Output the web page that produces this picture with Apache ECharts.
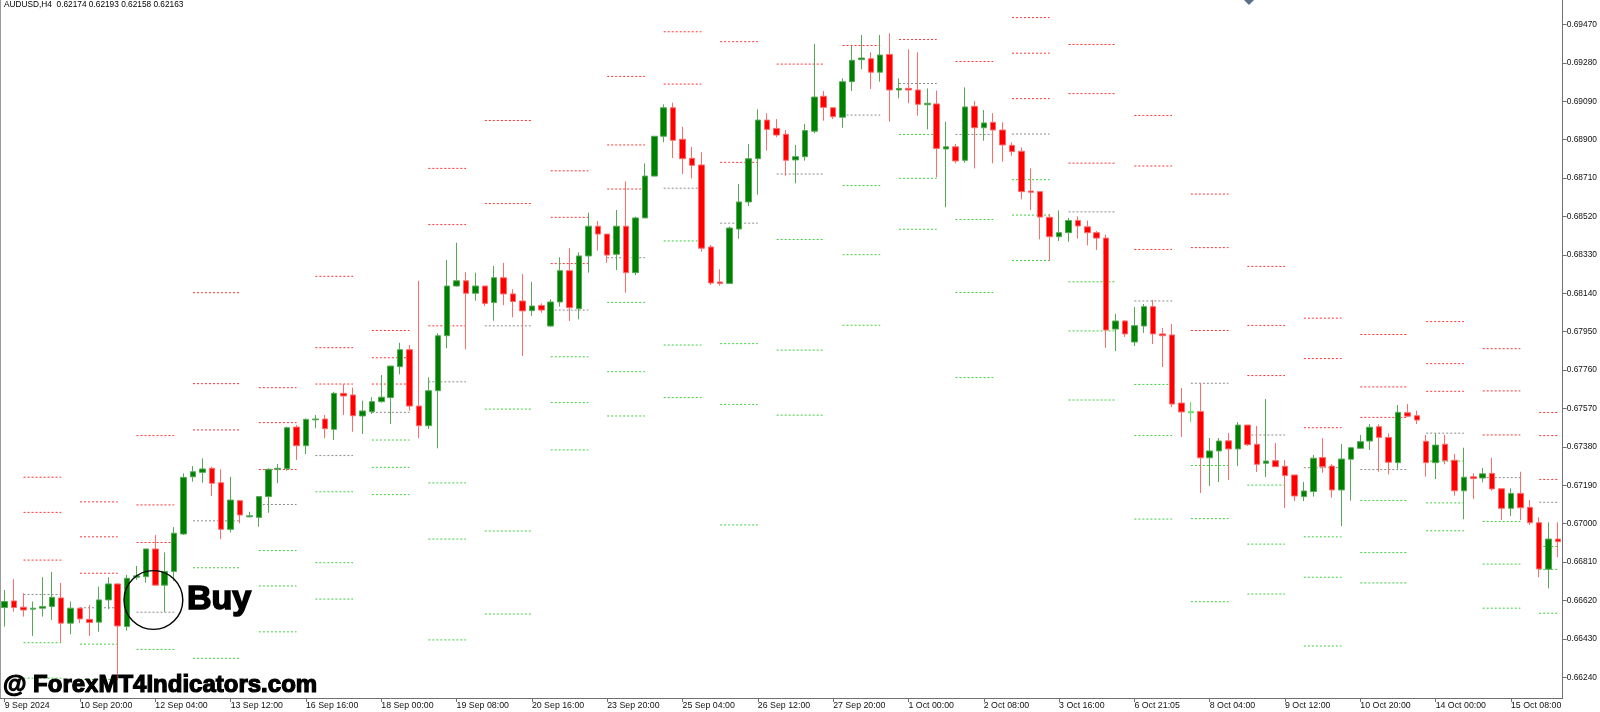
<!DOCTYPE html>
<html>
<head>
<meta charset="utf-8">
<script src="https://cdn.jsdelivr.net/npm/echarts@6/dist/echarts.min.js"></script>
<style>
html,body{margin:0;padding:0;background:#fff;}
#chart{width:1600px;height:712px;}
</style>
</head>
<body>
<div id="chart"></div>
<script>
// ---- candle data (AUDUSD H4) ----
const open = [0.66585,0.66618,0.66587,0.66577,0.66582,0.66590,0.66633,0.66508,0.66582,0.66527,
0.66513,0.66623,0.66702,0.66491,0.66735,0.66738,0.66875,0.66696,0.66764,0.66949,
0.67232,0.67254,0.67274,0.67203,0.66972,0.67114,0.67034,0.67031,0.67134,0.67269,
0.67272,0.67478,0.67386,0.67514,0.67518,0.67467,0.67645,0.67637,0.67533,0.67554,
0.67604,0.67624,0.67777,0.67861,0.67582,0.67485,0.67658,0.67930,0.68176,0.68202,
0.68140,0.68176,0.68094,0.68217,0.68137,0.68102,0.68054,0.68080,0.67978,0.68097,
0.68252,0.68064,0.68325,0.68472,0.68433,0.68333,0.68472,0.68242,0.68513,0.68720,
0.68917,0.69058,0.68902,0.68808,0.68775,0.68369,0.68196,0.68189,0.68458,0.68592,
0.68806,0.68997,0.68956,0.68927,0.68800,0.68816,0.68942,0.69115,0.69058,0.69011,
0.69187,0.69296,0.69301,0.69234,0.69322,0.69146,0.69154,0.69146,0.69073,0.69077,
0.68854,0.68865,0.68798,0.69065,0.68959,0.68986,0.68948,0.68872,0.68843,0.68646,
0.68643,0.68516,0.68420,0.68440,0.68500,0.68469,0.68440,0.68413,0.67963,0.68003,
0.67899,0.67978,0.68074,0.67939,0.67934,0.67597,0.67549,0.67555,0.67326,0.67360,
0.67410,0.67370,0.67488,0.67393,0.67299,0.67312,0.67284,0.67241,0.67134,0.67159,
0.67327,0.67285,0.67167,0.67319,0.67373,0.67409,0.67480,0.67427,0.67302,0.67549,
0.67534,0.67408,0.67302,0.67393,0.67314,0.67163,0.67232,0.67226,0.67249,0.67173,
0.67076,0.67150,0.67081,0.67005,0.66775,0.66924];
const close = [0.66615,0.66585,0.66573,0.66582,0.66590,0.66636,0.66508,0.66582,0.66529,0.66511,
0.66623,0.66702,0.66494,0.66730,0.66742,0.66875,0.66696,0.66764,0.66953,0.67229,
0.67257,0.67271,0.67200,0.66972,0.67117,0.67043,0.67039,0.67134,0.67269,0.67274,
0.67475,0.67386,0.67516,0.67518,0.67470,0.67645,0.67632,0.67534,0.67558,0.67604,
0.67626,0.67780,0.67861,0.67582,0.67485,0.67658,0.67930,0.68176,0.68202,0.68140,
0.68176,0.68090,0.68217,0.68137,0.68099,0.68053,0.68077,0.68057,0.68097,0.68252,
0.68069,0.68325,0.68472,0.68433,0.68329,0.68472,0.68242,0.68513,0.68720,0.68917,
0.69058,0.68897,0.68806,0.68773,0.68363,0.68191,0.68189,0.68463,0.68592,0.68806,
0.68997,0.68951,0.68923,0.68798,0.68816,0.68945,0.69111,0.69060,0.69014,0.69187,
0.69293,0.69304,0.69234,0.69319,0.69146,0.69154,0.69146,0.69075,0.69080,0.68857,
0.68865,0.68795,0.69062,0.68959,0.68983,0.68948,0.68874,0.68841,0.68643,0.68640,
0.68517,0.68420,0.68440,0.68500,0.68473,0.68440,0.68413,0.67958,0.68003,0.67939,
0.67980,0.68074,0.67939,0.67930,0.67592,0.67553,0.67554,0.67326,0.67360,0.67409,
0.67370,0.67488,0.67391,0.67294,0.67310,0.67282,0.67238,0.67137,0.67162,0.67324,
0.67282,0.67167,0.67320,0.67376,0.67406,0.67477,0.67427,0.67304,0.67551,0.67532,
0.67513,0.67302,0.67389,0.67312,0.67163,0.67230,0.67223,0.67247,0.67172,0.67076,
0.67150,0.67079,0.67005,0.66776,0.66924,0.66911];
const high = [0.66672,0.66725,0.66656,0.66615,0.66735,0.66761,0.66707,0.66615,0.66585,0.66598,
0.66689,0.66735,0.66705,0.66747,0.66791,0.66875,0.66945,0.66858,0.66983,0.67249,
0.67285,0.67323,0.67282,0.67269,0.67232,0.67117,0.67059,0.67137,0.67274,0.67295,
0.67480,0.67488,0.67521,0.67538,0.67538,0.67652,0.67690,0.67673,0.67609,0.67626,
0.67736,0.67780,0.67895,0.67884,0.68202,0.67724,0.67942,0.68305,0.68390,0.68244,
0.68242,0.68176,0.68275,0.68291,0.68160,0.68235,0.68197,0.68090,0.68110,0.68318,
0.68363,0.68343,0.68539,0.68498,0.68433,0.68552,0.68694,0.68519,0.68783,0.68917,
0.69075,0.69083,0.68964,0.68864,0.68838,0.68379,0.68259,0.68470,0.68681,0.68879,
0.69050,0.69031,0.69002,0.68948,0.68874,0.68978,0.69374,0.69141,0.69060,0.69204,
0.69365,0.69418,0.69332,0.69418,0.69426,0.69204,0.69347,0.69332,0.69154,0.69143,
0.68989,0.68879,0.69159,0.69092,0.69047,0.69031,0.68986,0.68887,0.68862,0.68758,
0.68643,0.68532,0.68550,0.68513,0.68520,0.68500,0.68448,0.68431,0.68038,0.68008,
0.68072,0.68087,0.68107,0.67968,0.67988,0.67671,0.67602,0.67696,0.67424,0.67424,
0.67449,0.67503,0.67488,0.67483,0.67617,0.67399,0.67315,0.67241,0.67207,0.67340,
0.67423,0.67295,0.67394,0.67376,0.67439,0.67493,0.67492,0.67447,0.67587,0.67592,
0.67559,0.67439,0.67447,0.67439,0.67345,0.67376,0.67249,0.67276,0.67326,0.67173,
0.67175,0.67257,0.67117,0.67032,0.67007,0.67007];
const low = [0.66491,0.66565,0.66540,0.66445,0.66540,0.66524,0.66412,0.66453,0.66508,0.66445,
0.66466,0.66577,0.66227,0.66471,0.66722,0.66708,0.66694,0.66564,0.66717,0.66944,
0.67208,0.67203,0.67137,0.66923,0.66956,0.67002,0.67031,0.66985,0.67054,0.67200,
0.67262,0.67315,0.67345,0.67472,0.67423,0.67414,0.67538,0.67455,0.67444,0.67543,
0.67599,0.67493,0.67739,0.67559,0.67423,0.67469,0.67373,0.67868,0.68173,0.67863,
0.68103,0.68077,0.68004,0.68081,0.68021,0.67830,0.68028,0.68044,0.67975,0.68074,
0.68003,0.68011,0.68242,0.68351,0.68291,0.68255,0.68143,0.68230,0.68513,0.68720,
0.68887,0.68809,0.68730,0.68709,0.68346,0.68181,0.68178,0.68189,0.68410,0.68572,
0.68628,0.68846,0.68912,0.68722,0.68684,0.68796,0.68932,0.68994,0.69002,0.68959,
0.69141,0.69248,0.69151,0.69187,0.68989,0.69105,0.69080,0.69019,0.68951,0.68714,
0.68566,0.68783,0.68786,0.68758,0.68895,0.68783,0.68791,0.68821,0.68605,0.68552,
0.68407,0.68301,0.68399,0.68395,0.68411,0.68377,0.68354,0.67871,0.67854,0.67924,
0.67879,0.67944,0.67889,0.67775,0.67577,0.67429,0.67503,0.67152,0.67187,0.67206,
0.67216,0.67285,0.67384,0.67256,0.67231,0.67281,0.67078,0.67112,0.67112,0.67134,
0.67252,0.67129,0.66988,0.67114,0.67370,0.67365,0.67257,0.67244,0.67272,0.67529,
0.67493,0.67233,0.67221,0.67294,0.67139,0.67022,0.67122,0.67205,0.67163,0.67018,
0.67038,0.67018,0.66994,0.66735,0.66680,0.66834];

// ---- x-axis tick labels (one every 8 bars) ----
const xTickLabels = ["9 Sep 2024","10 Sep 20:00","12 Sep 04:00","13 Sep 12:00","16 Sep 16:00",
"18 Sep 00:00","19 Sep 08:00","20 Sep 16:00","23 Sep 20:00","25 Sep 04:00","26 Sep 12:00",
"27 Sep 20:00","1 Oct 00:00","2 Oct 08:00","3 Oct 16:00","6 Oct 21:05","8 Oct 04:00",
"9 Oct 12:00","10 Oct 20:00","14 Oct 00:00","15 Oct 08:00"];
const labelEvery = 8;

// ---- y-axis tick labels ----
const yTicks = [0.66240,0.66430,0.66620,0.66810,0.67000,0.67190,0.67380,0.67570,0.67760,
0.67950,0.68140,0.68330,0.68520,0.68710,0.68900,0.69090,0.69280,0.69470];
const yMin = 0.661376, yMax = 0.695912;

// ---- daily pivot levels (segment start/end bar, levels) ----
const pivotStart = [2,8,14,20,27,33,39,45,51,58,64,70,76,82,89,95,101,107,113,120,126,132,138,144,151,157,163];
const pivotEnd   = [6,12,18,25,31,37,43,49,56,62,68,74,80,87,93,99,105,111,118,124,130,136,142,149,155,161,165];
const r3 = [0.67230,0.67108,0.67436,0.68143,0.67673,0.68224,0.67956,0.68758,null,0.68746,0.69213,null,null,null,null,null,null,0.69504,0.69371,0.69020,0.68631,0.68273,0.68017,0.67936,0.68000,0.67866,0.67550];
const r2 = [0.67056,0.66935,0.67093,0.67693,0.67500,0.67871,0.67821,0.68480,0.68995,0.68516,0.68874,0.69434,0.69385,null,null,null,null,0.69328,0.69128,0.68770,0.68366,0.67981,0.67817,0.67677,0.67792,0.67657,0.67436];
const r1 = [0.66820,0.66755,0.66907,0.67464,0.67268,0.67691,0.67691,0.67979,0.68584,0.68287,0.68656,0.69175,0.68788,0.69274,0.69366,0.69396,0.69287,0.69103,0.68784,0.68357,0.67956,0.67733,0.67475,0.67526,0.67655,0.67439,0.67219];
const pp = [0.66650,0.66584,0.66562,0.67014,0.67095,0.67337,0.67551,0.67702,0.67979,0.68057,0.68316,0.68660,0.68487,0.68730,0.69022,0.69178,0.68926,0.68928,0.68543,0.68102,0.67695,0.67439,0.67277,0.67268,0.67448,0.67228,0.67106];
const s1 = [0.66411,0.66404,0.66378,0.66782,0.66867,0.67158,0.67414,0.67202,0.67567,0.67826,0.68095,0.68399,0.67891,0.68406,0.68673,0.68926,0.68505,0.68702,0.68197,0.67689,0.67288,0.67191,0.66935,0.67115,0.67310,0.67011,0.66887];
const s2 = [0.66236,0.66229,null,0.66334,0.66692,0.66807,0.67279,0.66924,0.66964,0.67599,0.67752,0.67884,0.67590,0.67859,0.68331,0.68709,0.68144,0.68527,0.67954,0.67436,0.67025,0.66899,0.66735,0.66857,0.67103,0.66800,0.66774];
const s3 = [null,null,null,null,0.66465,0.66627,0.67144,0.66425,0.66553,0.67365,0.67533,0.67624,0.66994,0.67537,0.67982,0.68457,0.67723,0.68302,0.67612,0.67023,0.66614,0.66652,0.66395,0.66707,0.66965,0.66582,0.66557];

// bar drawn as a light-green cross in the reference
const highlightBar = 126;

// ---- build ----
const N = open.length;
const categories = open.map((_, i) => String(i));
const candleData = open.map((o, i) => {
  const v = [o, close[i], low[i], high[i]];
  if (i === highlightBar) {
    return { value: v, itemStyle: { color: '#66e066', color0: '#66e066', borderColor: '#66e066', borderColor0: '#66e066' } };
  }
  return v;
});

function levelSeries(levels, color) {
  const d = new Array(N).fill(null);
  levels.forEach((v, k) => {
    if (v == null) return;
    for (let i = pivotStart[k]; i <= pivotEnd[k] && i < N; i++) d[i] = v;
  });
  return {
    type: 'line', data: d, connectNulls: false, showSymbol: false, symbol: 'none',
    silent: true, animation: false, z: 1,
    lineStyle: { color: color, width: 1, type: [2, 2] }
  };
}
const RED = '#ff3030', GREEN = '#3ccf3c', GRAY = '#8a8a8a';

const chart = echarts.init(document.getElementById('chart'), null, { renderer: 'canvas' });
chart.setOption({
  backgroundColor: '#ffffff',
  animation: false,
  grid: { left: -3, right: 36, top: 0, bottom: 14, containLabel: false },
  xAxis: {
    type: 'category', data: categories, boundaryGap: true,
    axisLine: { show: true, lineStyle: { color: '#707070', width: 1 } },
    axisTick: { show: true, interval: labelEvery - 1, alignWithLabel: true, length: 4, lineStyle: { color: '#707070' } },
    axisLabel: {
      interval: labelEvery - 1, align: 'left', margin: 3,
      fontFamily: 'Liberation Sans', fontSize: 8.8, color: '#111',
      formatter: (v, idx) => (idx % labelEvery === 0 ? xTickLabels[idx / labelEvery] : '')
    },
    splitLine: { show: false }
  },
  yAxis: {
    type: 'value', position: 'right', min: yMin, max: yMax, scale: true,
    axisLine: { show: true, lineStyle: { color: '#707070', width: 1 } },
    axisTick: { show: true, customValues: yTicks, length: 4, inside: false, lineStyle: { color: '#707070' } },
    axisLabel: {
      customValues: yTicks, margin: 4,
      fontFamily: 'Liberation Sans', fontSize: 8.4, color: '#111',
      formatter: v => v.toFixed(5)
    },
    splitLine: { show: false }
  },
  series: [
    levelSeries(r3, RED), levelSeries(r2, RED), levelSeries(r1, RED),
    levelSeries(pp, GRAY),
    levelSeries(s1, GREEN), levelSeries(s2, GREEN), levelSeries(s3, GREEN),
    {
      type: 'candlestick', data: candleData, barWidth: 6, z: 3, silent: true,
      itemStyle: {
        color: '#008000', color0: '#ff0000',
        borderColor: '#55a855', borderColor0: '#ff6a6a', borderWidth: 1
      }
    }
  ],
  graphic: [
    { type: 'line', shape: { x1: 0.5, y1: 0, x2: 0.5, y2: 698 }, style: { stroke: '#9a9a9a', lineWidth: 1 }, z: 10 },
    { type: 'text', left: 4, top: 1, z: 10,
      style: { text: 'AUDUSD,H4  0.62174 0.62193 0.62158 0.62163', fontFamily: 'Liberation Sans', fontSize: 8.3, fill: '#000' } },
    { type: 'text', x: 3, y: 697, z: 10,
      style: { text: '@ ForexMT4Indicators.com', fontFamily: 'Liberation Sans', fontWeight: 'bold', fontSize: 24, fill: '#000', stroke: '#000', lineWidth: 1.2, verticalAlign: 'bottom' } },
    { type: 'circle', shape: { cx: 153.4, cy: 600, r: 29.4 }, style: { fill: 'none', stroke: '#000', lineWidth: 1.4 }, z: 10 },
    { type: 'text', x: 187, y: 617, z: 10,
      style: { text: 'Buy', fontFamily: 'Liberation Sans', fontWeight: 'bold', fontSize: 34, fill: '#000', stroke: '#000', lineWidth: 1.6, verticalAlign: 'bottom' } },
    { type: 'polygon', shape: { points: [[1244, 0], [1254, 0], [1249, 5]] }, style: { fill: '#5c6f8a' }, z: 10 }
  ]
});
</script>
</body>
</html>
